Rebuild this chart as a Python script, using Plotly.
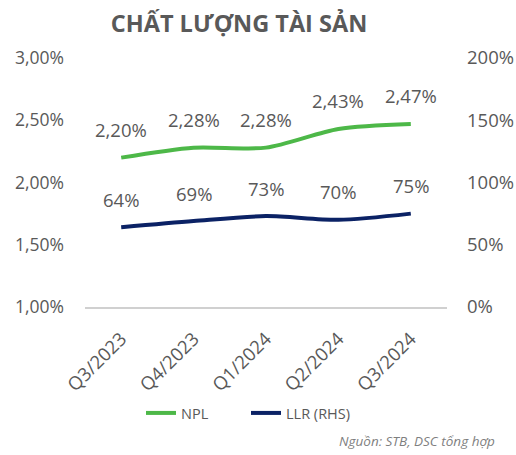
import plotly.graph_objects as go

quarters = ["Q3/2023", "Q4/2023", "Q1/2024", "Q2/2024", "Q3/2024"]
npl = [2.20, 2.28, 2.28, 2.43, 2.47]
llr = [64, 69, 73, 70, 75]

left_ticks = [1.0, 1.5, 2.0, 2.5, 3.0]
right_ticks = [0, 50, 100, 150, 200]

green = "#4DB848"
navy = "#0B2265"
gray = "#595959"
font = "Open Sans"

fig = go.Figure()
fig.add_trace(go.Scatter(x=quarters, y=npl, name="NPL", mode="lines",
                         line=dict(color=green, width=4, shape="spline", smoothing=0.8)))
fig.add_trace(go.Scatter(x=quarters, y=llr, name="LLR (RHS)", mode="lines", yaxis="y2",
                         line=dict(color=navy, width=4, shape="spline", smoothing=0.8)))

anns = []
for q, v in zip(quarters, npl):
    anns.append(dict(x=q, y=v, xref="x", yref="y", text=f"{v:.2f}%".replace(".", ","),
                     showarrow=False, yshift=28, yanchor="middle",
                     font=dict(size=18.5, color=gray, family=font)))
for q, v in zip(quarters, llr):
    anns.append(dict(x=q, y=v, xref="x", yref="y2", text=f"{v}%",
                     showarrow=False, yshift=28, yanchor="middle",
                     font=dict(size=18.5, color=gray, family=font)))
anns.append(dict(x=1, y=0, xref="paper", yref="paper", xanchor="right", yanchor="middle",
                 text="<i>Nguồn: STB, DSC tổng hợp</i>", showarrow=False, yshift=-134, xshift=50,
                 font=dict(size=13.5, color="#7F7F7F", family=font)))

fig.update_layout(
    width=516, height=455,
    margin=dict(l=85, r=69, t=58, b=148),
    paper_bgcolor="white", plot_bgcolor="white",
    separators=",.",
    font=dict(family=font, color=gray),
    title=dict(text="<b>CHẤT LƯỢNG TÀI SẢN</b>", x=239 / 516, xanchor="center",
               y=1 - 24 / 455, yanchor="middle",
               font=dict(size=23.5, color=gray, family=font)),
    xaxis=dict(showgrid=False, tickangle=-45, tickfont=dict(size=18.5, color=gray), ticks="",
               showline=True, linecolor="#D0D0D0", linewidth=1.5,
               range=[-0.5, 4.5], automargin=False, ticklabelstandoff=12),
    yaxis=dict(range=[1.0, 3.0], tickvals=left_ticks,
               ticktext=[f"{t:.2f}%".replace(".", ",") for t in left_ticks],
               showgrid=False, zeroline=False, tickfont=dict(size=17.5, color=gray),
               ticklabelstandoff=20, automargin=False),
    yaxis2=dict(range=[0, 200], tickvals=right_ticks, ticktext=[f"{t}%" for t in right_ticks],
                overlaying="y", side="right", showgrid=False, zeroline=False,
                tickfont=dict(size=18.5, color=gray), ticklabelstandoff=19, automargin=False),
    showlegend=True,
    legend=dict(orientation="h", x=(246 - 85) / 362, xanchor="center",
                y=-(413 - 307) / 249, yanchor="middle", entrywidth=60,
                font=dict(size=14.5, color=gray)),
    annotations=anns,
)

fig.write_html("out.html", config={"displayModeBar": False},
               post_script="document.body.style.margin='0';")
